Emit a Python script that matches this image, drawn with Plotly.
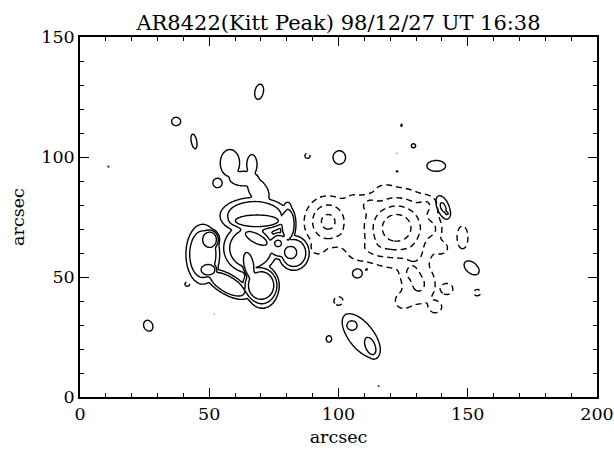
import numpy as np
import plotly.graph_objects as go

# ---------------- text ----------------
title_text = "AR8422(Kitt Peak) 98/12/27 UT 16:38"
x_title = "arcsec"
y_title = "arcsec"
x_tick_vals = [0, 50, 100, 150, 200]
y_tick_vals = [0, 50, 100, 150]

# ---------------- contour levels (G) ----------------
pos_levels = [50, 100, 150]
neg_levels = [50, 100, 150, 200]

# ---------------- positive flux concentrations ----------------
# centre x, centre y (arcsec), widths (arcsec), tilt (deg), profile exponent, peak (G)
pos_x  = [67.5, 47.5, 66.0, 82.7, 80.5, 80.3, 70.5, 57.0, 77.0,
          50.2, 49.6, 68.5, 68.2, 76.6, 81.5, 70.0, 65.3,
          58.0, 66.5, 63.5, 69.0, 53.2,
          140.5, 142.0, 151.5, 107.3, 110.8, 137.8, 100.3, 129.0, 124.3, 122.4, 122.7,
          11.0, 26.4, 52.1, 115.5, 69.3, 37.2, 44.1, 96.3,
          108.8, 105.2, 112.3]
pos_y  = [75.5, 59.5, 62.0, 60.0, 72.0, 79.0, 46.0, 47.0, 63.0,
          65.6, 53.0, 73.4, 66.1, 64.0, 60.2, 46.5, 55.0,
          97.5, 96.8, 91.0, 86.0, 89.2,
          79.0, 76.5, 53.8, 51.5, 53.2, 96.3, 99.8, 104.7, 113.2, 101.7, 94.0,
          96.0, 29.7, 34.3, 4.6, 127.2, 114.8, 106.5, 24.2,
          25.5, 29.8, 21.2]
pos_sx = [9.6, 4.7, 7.5, 4.3, 2.2, 1.3, 4.6, 7.0, 3.0,
          2.6, 2.6, 8.0, 4.5, 2.2, 2.2, 4.8, 1.8,
          3.2, 1.7, 4.8, 3.0, 1.9,
          1.8, 0.9, 2.2, 1.9, 0.5, 3.5, 2.5, 1.0, 0.4, 0.4, 0.5,
          0.4, 1.8, 0.4, 0.4, 1.7, 1.8, 1.1, 1.1,
          4.4, 2.1, 2.0]
pos_sy = [5.5, 9.0, 7.5, 5.2, 5.5, 2.0, 6.5, 3.0, 4.0,
          3.1, 2.1, 2.3, 1.8, 2.2, 2.4, 5.5, 5.0,
          4.8, 3.6, 2.6, 4.8, 2.1,
          4.0, 0.9, 3.5, 1.9, 0.5, 2.2, 2.9, 1.0, 0.9, 0.4, 0.5,
          0.4, 2.4, 0.4, 0.4, 3.3, 1.8, 3.2, 1.4,
          9.5, 2.1, 4.0]
pos_ang = [0, 0, 0, 0, 0, 0, 0, -33, 0,
           0, 0, 0, -30, 0, 0, 0, 10,
           0, 0, 0, 30, 0,
           20, 0, 45, 0, 0, 0, 0, 0, 0, 0, 0,
           0, 20, 0, 0, -10, 0, 10, 0,
           35, 0, 20]
pos_pow = [3, 3, 3, 3, 3, 1, 3, 3, 3,
           3, 3, 3, 3, 1, 3, 3, 3,
           2, 2, 2, 2, 1,
           1, 1, 1, 1, 1, 1, 1, 1, 1, 1, 1,
           1, 1, 1, 1, 1, 1, 1, 1,
           2, 2, 2]
pos_peak = [122, 122, 122, 122, 122, 90, 122, 122, 122,
            170, 170, 170, 170, 170, 170, 170, 170,
            80, 80, 80, 80, 78,
            115, 112, 82, 82, 65, 85, 80, 72, 65, 60, 62,
            60, 80, 60, 60, 80, 80, 80, 80,
            75, 120, 120]

# ---------------- negative flux concentrations (magnitude, G) ----------------
neg_x  = [122.5, 96.0, 108.0, 131.0, 137.5, 148.0, 153.7, 100.0, 88.0, 41.5,
          106.0, 130.0, 115.0, 140.0,
          112.0, 128.0, 134.0, 104.0, 92.0, 125.0, 142.0, 118.0, 136.0]
neg_y  = [70.5, 73.0, 61.0, 47.0, 37.5, 66.5, 43.5, 40.0, 100.5, 47.0,
          81.0, 59.0, 62.0, 62.0,
          80.0, 52.0, 80.0, 66.0, 62.0, 40.0, 45.0, 86.0, 70.0]
neg_sx = [9.5, 6.0, 5.0, 5.0, 2.4, 2.2, 1.7, 2.0, 1.3, 1.3,
          3.5, 4.0, 4.0, 3.0,
          3.0, 3.0, 3.0, 3.0, 2.5, 3.0, 2.5, 3.0, 2.5]
neg_sy = [9.5, 7.0, 4.0, 6.5, 2.4, 5.0, 1.7, 2.0, 1.4, 1.3,
          3.5, 4.0, 4.0, 3.0,
          3.0, 3.0, 3.0, 3.0, 2.5, 3.0, 2.5, 2.0, 3.0]
neg_ang = [0] * 23
neg_pow = [1] * 23
neg_peak = [237, 165, 72, 110, 82, 78, 68, 74, 68, 64,
            70, 80, 70, 60,
            95, 90, 90, 80, 70, 80, 75, 70, 90]

# ---------------- build the fields ----------------
gx = np.arange(0.0, 200.01, 0.5)
gy = np.arange(0.0, 150.01, 0.5)
GX, GY = np.meshgrid(gx, gy)


def flux_map(xs, ys, sxs, sys_, angs, pows, peaks, m):
    acc = np.zeros_like(GX)
    for x0, y0, sx, sy, a, p, b in zip(xs, ys, sxs, sys_, angs, pows, peaks):
        t = np.radians(a)
        dx = GX - x0
        dy = GY - y0
        u = dx * np.cos(t) + dy * np.sin(t)
        v = -dx * np.sin(t) + dy * np.cos(t)
        q = 0.5 * ((u / sx) ** 2 + (v / sy) ** 2)
        f = b * np.exp(-q ** p)
        acc += f ** m
    return acc ** (1.0 / m)


z_pos = flux_map(pos_x, pos_y, pos_sx, pos_sy, pos_ang, pos_pow, pos_peak, 6)
z_neg = -flux_map(neg_x, neg_y, neg_sx, neg_sy, neg_ang, neg_pow, neg_peak, 2)

FONT = "DejaVu Serif"

fig = go.Figure()
fig.add_trace(go.Contour(
    x=gx, y=gy, z=z_pos,
    contours=dict(start=pos_levels[0], end=pos_levels[-1],
                  size=pos_levels[1] - pos_levels[0], coloring="none"),
    line=dict(color="black", width=1.4, dash="solid", smoothing=1),
    showscale=False, hoverinfo="skip"))
fig.add_trace(go.Contour(
    x=gx, y=gy, z=z_neg,
    contours=dict(start=-neg_levels[-1], end=-neg_levels[0],
                  size=neg_levels[1] - neg_levels[0], coloring="none"),
    line=dict(color="black", width=1.4, dash="6px,4px", smoothing=1),
    showscale=False, hoverinfo="skip"))
# invisible trace to carry the mirrored (top/right) tick axes
fig.add_trace(go.Scatter(x=[0], y=[0], xaxis="x2", yaxis="y2", mode="markers",
                         marker=dict(opacity=0), hoverinfo="skip", showlegend=False))

tick_common = dict(ticks="inside", ticklen=9, tickwidth=1.3, tickcolor="black",
                   minor=dict(dtick=10, ticks="inside", ticklen=4.5, tickwidth=1, tickcolor="black"))
axis_common = dict(showgrid=False, zeroline=False, showline=True, linecolor="black",
                   linewidth=1.5, automargin=False, **tick_common)
label_font = dict(family=FONT, size=17.5, color="black")

fig.update_layout(
    width=614, height=451,
    margin=dict(l=80, r=17, t=37, b=54, autoexpand=False),
    paper_bgcolor="white", plot_bgcolor="white",
    showlegend=False,
    title=dict(text=title_text, x=0.5, xref="paper", xanchor="center",
               y=1 - 23 / 451, yref="container", yanchor="middle",
               font=dict(family=FONT, size=21, color="black")),
    xaxis=dict(range=[0, 200], tickvals=x_tick_vals, tickfont=label_font,
               ticklabeloverflow="allow",
               title=dict(text=x_title, font=label_font, standoff=8),
               **axis_common),
    yaxis=dict(range=[0, 150], tickvals=y_tick_vals, tickfont=label_font,
               ticklabeloverflow="allow",
               title=dict(text=y_title, font=label_font, standoff=12),
               **axis_common),
    xaxis2=dict(range=[0, 200], tickvals=x_tick_vals, overlaying="x", side="top",
                anchor="y2", showticklabels=False, **axis_common),
    yaxis2=dict(range=[0, 150], tickvals=y_tick_vals, overlaying="y", side="right",
                anchor="x2", showticklabels=False, **axis_common),
)

fig.write_html("out.html", config={"displayModeBar": False},
               post_script="document.body.style.margin='0';document.body.style.overflow='hidden';")
